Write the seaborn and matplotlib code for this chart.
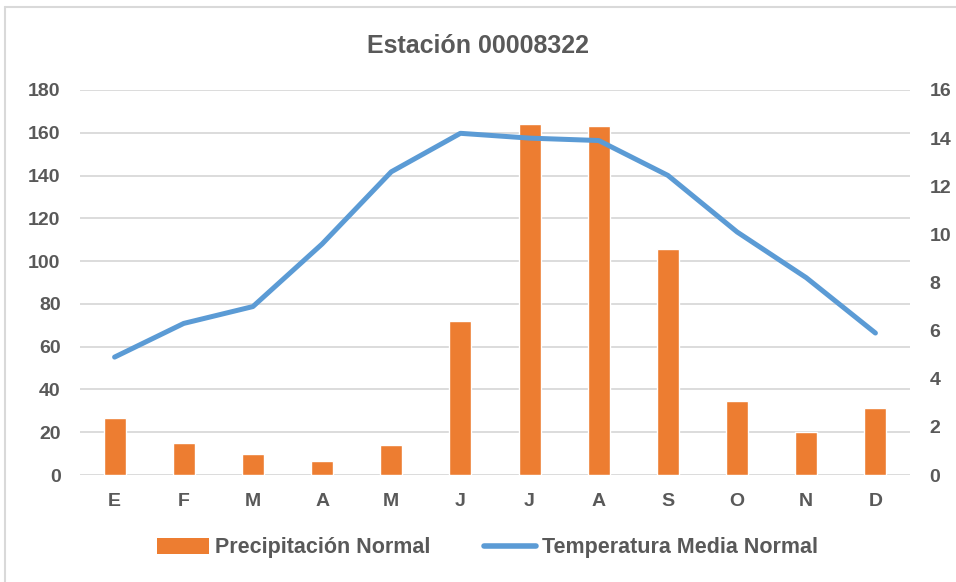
import numpy as np
import pandas as pd
import matplotlib
matplotlib.use('Agg')
import matplotlib.pyplot as plt
import seaborn as sns
from matplotlib.patches import Patch
from matplotlib.lines import Line2D

# datos de la estación
meses = ['E', 'F', 'M', 'A', 'M', 'J', 'J', 'A', 'S', 'O', 'N', 'D']
precipitacion = [26.5, 15.0, 9.6, 6.5, 14.2, 72.0, 164.0, 163.0, 105.5, 34.8, 20.3, 31.2]
temperatura = [4.9, 6.3, 7.0, 9.6, 12.6, 14.2, 14.0, 13.9, 12.45, 10.1, 8.2, 5.9]

naranja = '#ED7D31'
azul = '#5B9BD5'
gris = '#595959'
rejilla = '#D9D9D9'

sns.set_style('white')
plt.rcParams['font.family'] = ['Liberation Sans', 'DejaVu Sans']

df = pd.DataFrame({'pos': np.arange(len(meses)), 'prec': precipitacion, 'temp': temperatura})

fig = plt.figure(figsize=(9.56, 5.82), dpi=100)
ax = fig.add_axes([80 / 956, 1 - 475 / 582, 830 / 956, 385 / 582])

sns.barplot(data=df, x='pos', y='prec', color=naranja, width=0.32, saturation=1, ax=ax, zorder=2)
ax.set_xlim(-0.5, 11.5)
ax.set_ylim(0, 180)
ax.set_yticks(range(0, 181, 20))
ax.grid(axis='y', color=rejilla, linewidth=1.3, zorder=0)
ax.set_axisbelow(True)
ax.set_xticks(range(len(meses)))
ax.set_xticklabels(meses)
ax.set_xlabel('')
ax.set_ylabel('')
for s in ax.spines.values():
    s.set_visible(False)
ax.tick_params(axis='both', length=0, labelsize=14, labelcolor=gris)
ax.tick_params(axis='y', pad=14)
ax.tick_params(axis='x', pad=13)
for t in ax.get_xticklabels() + ax.get_yticklabels():
    t.set_fontweight('bold')

ax2 = ax.twinx()
sns.lineplot(data=df, x='pos', y='temp', color=azul, linewidth=3.6, ax=ax2)
ax2.set_ylim(0, 16)
ax2.set_yticks(range(0, 17, 2))
ax2.set_xlim(-0.5, 11.5)
ax2.set_ylabel('')
for s in ax2.spines.values():
    s.set_visible(False)
ax2.tick_params(axis='y', length=0, labelsize=14, labelcolor=gris, pad=14)
for t in ax2.get_yticklabels():
    t.set_fontweight('bold')

fig.text(0.5, 1 - 46 / 582, 'Estación 00008322', ha='center', va='center',
         fontsize=18, fontweight='bold', color=gris)

handles = [Patch(facecolor=naranja, edgecolor='none'),
           Line2D([0], [0], color=azul, linewidth=4, solid_capstyle='round')]
fig.legend(handles, ['Precipitación Normal', 'Temperatura Media Normal'],
           loc='center', bbox_to_anchor=(0.51, 1 - 548 / 582), ncol=2, frameon=False,
           handlelength=2.4, handleheight=0.7, columnspacing=2.5,
           handletextpad=0.3, labelcolor=gris,
           prop={'weight': 'bold', 'size': 15.5})

# marco del gráfico (bordes izquierdo y superior)
fig.add_artist(Line2D([5 / 956, 5 / 956], [0, 1 - 7 / 582], transform=fig.transFigure,
                      color=rejilla, linewidth=1.5))
fig.add_artist(Line2D([5 / 956, 1], [1 - 7 / 582, 1 - 7 / 582], transform=fig.transFigure,
                      color=rejilla, linewidth=1.5))

fig.savefig('out.png', dpi=100)
